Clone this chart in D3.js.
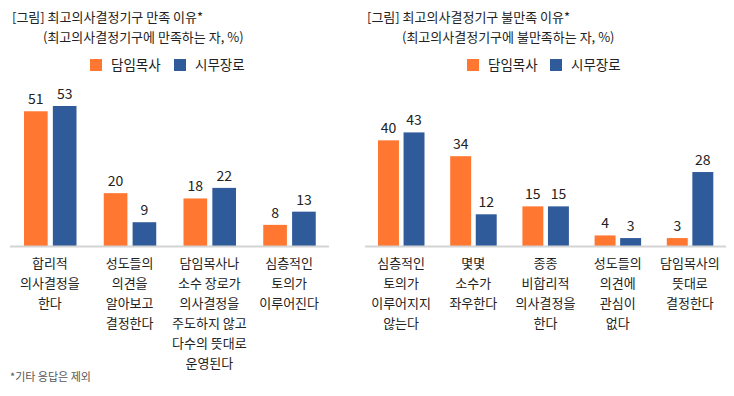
<html>
<head>
<style>
  body { margin: 0; background: #fff; }
  text { font-family: "Noto Sans CJK KR", "Noto Sans", sans-serif; fill: #222; }
</style>
</head>
<body>

<script src="https://d3js.org/d3.v7.min.js"></script>
<script>

    var series = ["담임목사", "시무장로"];
    var colors = ["#ff7730", "#2f5b9a"];

    // left chart: 만족 이유
    var leftCats = [
        ["합리적", "의사결정을", "한다"],
        ["성도들의", "의견을", "알아보고", "결정한다"],
        ["담임목사나", "소수 장로가", "의사결정을", "주도하지 않고", "다수의 뜻대로", "운영된다"],
        ["심층적인", "토의가", "이루어진다"]
    ];
    var leftPastor = [51, 20, 18, 8];
    var leftElder = [53, 9, 22, 13];

    // right chart: 불만족 이유
    var rightCats = [
        ["심층적인", "토의가", "이루어지지", "않는다"],
        ["몇몇", "소수가", "좌우한다"],
        ["종종", "비합리적", "의사결정을", "한다"],
        ["성도들의", "의견에", "관심이", "없다"],
        ["담임목사의", "뜻대로", "결정한다"]
    ];
    var rightPastor = [40, 34, 15, 4, 3];
    var rightElder = [43, 12, 15, 3, 28];

    var width = 734, height = 396;
    var baseline = 246;

    var svg = d3.select("body").append("svg").attr("width", width).attr("height", height);

    var y = d3.scaleLinear().domain([0, 53]).range([baseline, 106]);

    function drawChart(opt) {
        var g = svg.append("g");
        var idx = d3.range(opt.cats.length);

        var x0 = d3.scaleBand().domain(idx).range(opt.range).padding(0);
        var x1 = d3.scaleBand().domain([0, 1]).range(opt.inner).paddingInner(0.18);

        // titles
        g.append("text").attr("x", opt.titleX).attr("y", 22)
            .style("font-size", "13px").text(opt.title1);
        g.append("text").attr("x", opt.title2X).attr("y", 42)
            .style("font-size", "13px").text(opt.title2);

        // legend
        var leg = g.selectAll(".leg").data(series).enter().append("g")
            .attr("transform", function (d, i) { return "translate(" + opt.legendX[i] + ",59)"; });
        leg.append("rect").attr("width", 12).attr("height", 12)
            .attr("fill", function (d, i) { return colors[i]; });
        leg.append("text").attr("x", 21).attr("y", 11)
            .style("font-size", "13.5px").text(function (d) { return d; });

        // bars
        var rows = idx.map(function (i) { return [opt.a[i], opt.b[i]]; });
        var grp = g.selectAll(".grp").data(rows).enter().append("g")
            .attr("transform", function (d, i) { return "translate(" + x0(i) + ",0)"; });

        grp.selectAll("rect").data(function (d) { return d; }).enter().append("rect")
            .attr("x", function (d, j) { return x1(j); })
            .attr("width", x1.bandwidth())
            .attr("y", function (d) { return y(d); })
            .attr("height", function (d) { return baseline - y(d); })
            .attr("fill", function (d, j) { return colors[j]; });

        grp.selectAll(".val").data(function (d) { return d; }).enter().append("text")
            .attr("x", function (d, j) { return x1(j) + x1.bandwidth() / 2; })
            .attr("y", function (d) { return y(d) - 7; })
            .attr("text-anchor", "middle")
            .style("font-size", "14px")
            .text(function (d) { return d; });

        // axis line
        g.append("line")
            .attr("x1", opt.range[0]).attr("x2", opt.range[1])
            .attr("y1", baseline + 0.5).attr("y2", baseline + 0.5)
            .attr("stroke", "#d4d4d4").attr("stroke-width", 2);

        // category labels
        var lab = g.selectAll(".cat").data(opt.cats).enter().append("text")
            .attr("text-anchor", "middle")
            .style("font-size", "13px");
        lab.selectAll("tspan").data(function (d, i) {
            return d.map(function (s) { return {s: s, i: i}; });
        }).enter().append("tspan")
            .attr("x", function (d) { return x0(d.i) + x0.bandwidth() / 2; })
            .attr("y", function (d, k) { return 268 + k * 20; })
            .text(function (d) { return d.s; });
    }

    drawChart({
        cats: leftCats, a: leftPastor, b: leftElder,
        range: [10, 329], inner: [14, 66.5],
        title1: "[그림] 최고의사결정기구 만족 이유*",
        title2: "(최고의사결정기구에 만족하는 자, %)",
        titleX: 12, title2X: 43,
        legendX: [90, 174]
    });

    drawChart({
        cats: rightCats, a: rightPastor, b: rightElder,
        range: [365, 726], inner: [13, 59.5],
        title1: "[그림] 최고의사결정기구 불만족 이유*",
        title2: "(최고의사결정기구에 불만족하는 자, %)",
        titleX: 367, title2X: 402,
        legendX: [467, 550]
    });

    svg.append("text").attr("x", 10).attr("y", 381)
        .style("font-size", "11px").style("fill", "#555")
        .text("*기타 응답은 제외");

</script>
</body>
</html>
